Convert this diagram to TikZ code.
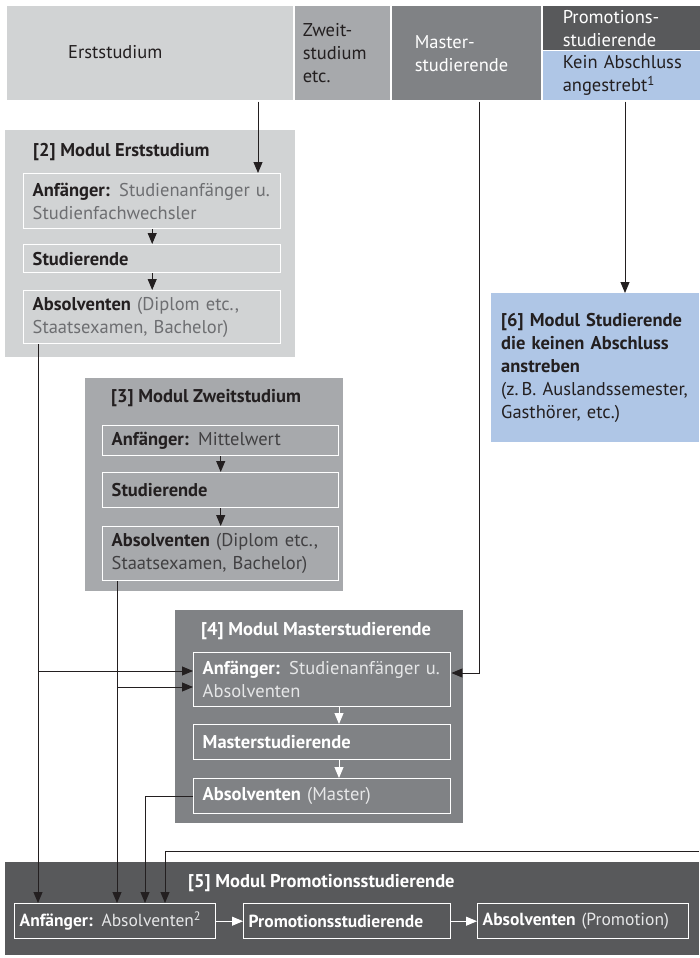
\documentclass[tikz,border=0pt]{standalone}
\usepackage{fontspec}
\setmainfont{PT Sans}
\usetikzlibrary{arrows.meta}

\definecolor{erstgrau}{HTML}{D1D3D4}
\definecolor{zweitgrau}{HTML}{A7A9AC}
\definecolor{mastergrau}{HTML}{808285}
\definecolor{promgrau}{HTML}{58595B}
\definecolor{keinblau}{HTML}{AFC6E6}
\definecolor{textdunkel}{HTML}{231F20}
\definecolor{textgrau}{HTML}{6D6E71}
\definecolor{textmittel}{HTML}{414042}
\definecolor{texthell}{HTML}{E6E7E8}

\newcommand{\dkopf}[1]{\textcolor{textdunkel}{\textbf{#1}}}
\newcommand{\hkopf}[1]{\textcolor{white}{\textbf{#1}}}

\begin{document}
\begin{tikzpicture}[x=1pt, y=-1pt,
    font=\fontsize{18.5}{23}\selectfont,
    % --- 样式定义 ---
    topbox/.style={draw=white, line width=1.5pt, anchor=north west, inner ysep=0pt, align=left},
    modbox/.style={anchor=north west, inner sep=0pt},
    titel/.style={anchor=west, inner sep=0pt, font=\fontsize{18.5}{23}\selectfont\bfseries},
    stufe/.style={draw=white, line width=1.4pt, anchor=north west, inner xsep=9pt, inner ysep=0pt, align=left},
    pfeil/.style={draw=textdunkel, line width=0.9pt, -{Triangle[length=11pt, width=9pt]}},
    wpfeil/.style={pfeil, draw=white}
]
    \useasboundingbox (0,0) rectangle (699,958);

    % --- 1. 定义坐标 (竖线 x, 横线 y) ---
    \coordinate (railA) at (38,0);   % 左: Erststudium -> Promotion
    \coordinate (railB) at (117,0);  % Zweitstudium -> Promotion
    \coordinate (railC) at (145,0);  % Master -> Promotion
    \coordinate (railD) at (165,0);  % 右边来的线
    \coordinate (railE) at (258,0);
    \coordinate (railW) at (339,0);
    \coordinate (railM) at (479,0);
    \coordinate (railK) at (625,0);
    \coordinate (rowA)  at (0,671);
    \coordinate (rowB)  at (0,687);
    \coordinate (rowM)  at (0,673);
    \coordinate (randR) at (699,851); % 图右边缘

    % =========================================
    % 【顶部】 Studierendengruppen
    % =========================================
    \node[topbox, fill=erstgrau, minimum width=288, minimum height=95] (erst) at (5,5) {};
    \node[anchor=west, inner sep=0pt, text=textdunkel] (erstname) at (68,52) {Erststudium};
    \node[topbox, fill=zweitgrau, text=textdunkel, minimum width=97, minimum height=95,
        inner xsep=9pt, text width=79pt] (zweit) at (293,5) {Zweit-\\studium\\etc.};
    \node[topbox, fill=mastergrau, text=white, minimum width=151, minimum height=95,
        inner xsep=24pt, text width=103pt] (master) at (390,5) {Master-\\studierende};
    % rechts über den Bildrand hinaus
    \node[topbox, fill=promgrau, text=white, minimum height=45,
        inner xsep=21pt, text width=140pt] (promo) at (541,5) {Promotions-\\studierende};
    \node[topbox, fill=keinblau, text=textdunkel, minimum height=50,
        inner xsep=21pt, text width=140pt] (kein) at (541,50) {Kein Abschluss\\angestrebt\textsuperscript{1}};

    % =========================================
    % 【[2] Modul Erststudium】
    % =========================================
    \node[modbox, fill=erstgrau, minimum width=290, minimum height=227] (mod2) at (5,130) {};
    \node[titel, text=textdunkel] (titel2) at (33,152) {[2] Modul Erststudium};
    \node[stufe, text=textgrau, text width=239pt, minimum height=55] (anf2) at (23,173)
        {\dkopf{Anfänger:} Studienanfänger u.\\Studienfachwechsler};
    \node[stufe, text width=239pt, minimum height=28] (stud2) at (23,244) {\dkopf{Studierende}};
    \node[stufe, text=textgrau, text width=239pt, minimum height=53] (abs2) at (23,290)
        {\dkopf{Absolventen} (Diplom etc.,\\Staatsexamen, Bachelor)};
    \draw[pfeil] (anf2) -- (stud2);
    \draw[pfeil] (stud2) -- (abs2);

    % =========================================
    % 【[3] Modul Zweitstudium】
    % =========================================
    \node[modbox, fill=zweitgrau, minimum width=258, minimum height=213] (mod3) at (85,378) {};
    \node[titel, text=textdunkel] (titel3) at (111,398) {[3] Modul Zweitstudium};
    \node[stufe, text=textmittel, text width=218pt, minimum height=30] (anf3) at (102,425)
        {\dkopf{Anfänger:} Mittelwert};
    \node[stufe, text width=218pt, minimum height=35] (stud3) at (102,472) {\dkopf{Studierende}};
    \node[stufe, text=textmittel, text width=218pt, minimum height=54] (abs3) at (102,526)
        {\dkopf{Absolventen} (Diplom etc.,\\Staatsexamen, Bachelor)};
    \draw[pfeil] (anf3) -- (stud3);
    \draw[pfeil] (stud3) -- (abs3);

    % =========================================
    % 【[4] Modul Masterstudierende】 白色箭头
    % =========================================
    \node[modbox, fill=mastergrau, minimum width=288, minimum height=213] (mod4) at (175,610) {};
    \node[titel, text=white] (titel4) at (201,631) {[4] Modul Masterstudierende};
    \node[stufe, text=texthell, text width=239pt, minimum height=54] (anf4) at (193,652)
        {\hkopf{Anfänger:} Studienanfänger u.\\Absolventen};
    \node[stufe, text width=239pt, minimum height=35] (mstud4) at (193,724) {\hkopf{Masterstudierende}};
    \node[stufe, text=texthell, text width=239pt, minimum height=35] (abs4) at (193,778)
        {\hkopf{Absolventen} (Master)};
    \draw[wpfeil] (anf4.south -| railW) -- (mstud4.north -| railW);
    \draw[wpfeil] (mstud4.south -| railW) -- (abs4.north -| railW);

    % =========================================
    % 【[6] Modul Studierende ohne Abschluss】
    % =========================================
    \node[modbox, fill=keinblau, text=textdunkel, minimum width=208, minimum height=149,
        inner xsep=10pt, text width=188pt, align=left] (mod6) at (491,293)
        {\textbf{[6] Modul Studierende}\\\textbf{die keinen Abschluss}\\\textbf{anstreben}\\
         (z.\,B. Auslandssemester,\\Gasthörer, etc.)};

    % =========================================
    % 【[5] Modul Promotionsstudierende】
    % =========================================
    \node[modbox, fill=promgrau, minimum width=694, minimum height=93] (mod5) at (5,862) {};
    \node[titel, text=white] (titel5) at (188,883) {[5] Modul Promotionsstudierende};
    \begin{scope}[font=\fontsize{17.5}{22}\selectfont]
    \node[stufe, text=texthell, inner xsep=5pt, text width=191pt, minimum height=35] (anf5) at (14,903)
        {\hkopf{Anfänger:} Absolventen\textsuperscript{2}};
    \node[stufe, inner xsep=5pt, text width=197pt, minimum height=35] (prom5) at (243,903)
        {\hkopf{Promotionsstudierende}};
    \node[stufe, text=texthell, inner xsep=5pt, text width=201pt, minimum height=35] (absp5) at (477,903)
        {\hkopf{Absolventen} (Promotion)};
    \end{scope}
    \draw[wpfeil] (anf5) -- (prom5);
    \draw[wpfeil] (prom5) -- (absp5);

    % --- 2. 连线 ---
    % von oben in die Module
    \draw[pfeil] (erst.south -| railE) -- (anf2.north -| railE);
    \draw[pfeil] (kein.south -| railK) -- (mod6.north -| railK);
    \draw[pfeil] (master.south -| railM) |- (anf4.east |- rowM);

    % Absolventen -> Promotion
    \draw[pfeil] (abs2.south -| railA) -- (anf5.north -| railA);
    \draw[pfeil] (railA |- rowA) -- (anf4.west |- rowA);
    \draw[pfeil] (abs3.south -| railB) -- (anf5.north -| railB);
    \draw[pfeil] (railB |- rowB) -- (anf4.west |- rowB);
    \draw[pfeil] (abs4.west) -| (anf5.north -| railC);
    \draw[pfeil] (randR) -| (anf5.north -| railD);

\end{tikzpicture}
\end{document}
